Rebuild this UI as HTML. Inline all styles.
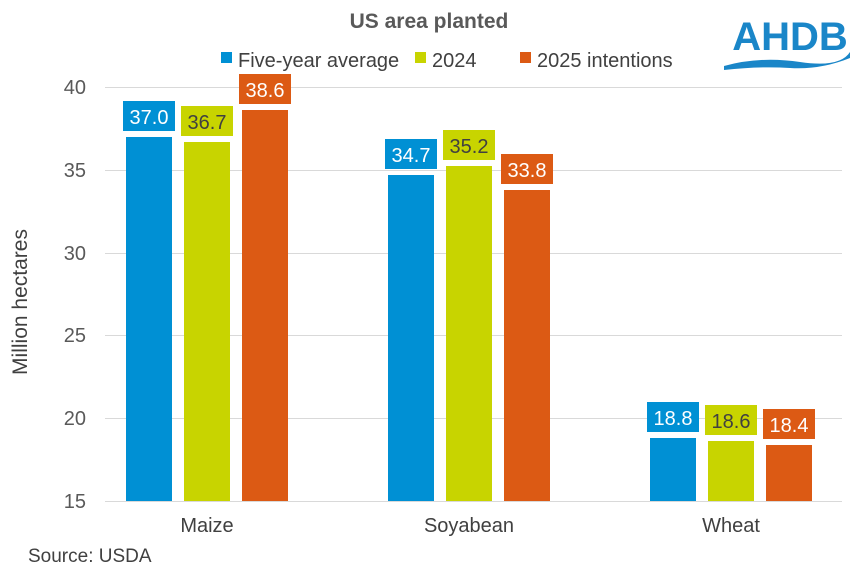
<!DOCTYPE html><html><head><style>body{margin:0;background:#fff}svg{display:block;font-family:"Liberation Sans",Arial,sans-serif}</style></head><body>
<svg width="858" height="569" viewBox="0 0 858 569">
<text x="429" y="28" text-anchor="middle" font-size="21" font-weight="bold" fill="#595959">US area planted</text>
<rect x="221" y="52" width="11" height="11" fill="#0090d4"/><text x="238" y="67" font-size="20" fill="#404040">Five-year average</text>
<rect x="415" y="52" width="11" height="11" fill="#c8d400"/><text x="432" y="67" font-size="20" fill="#404040">2024</text>
<rect x="520" y="52" width="11" height="11" fill="#dc5a14"/><text x="537" y="67" font-size="20" fill="#404040">2025 intentions</text>
<text x="790" y="50" text-anchor="middle" font-size="40" font-weight="bold" fill="#1a86c8">AHDB</text>
<path d="M724 66 Q760 56 800 62 T850 52 L850 58 Q820 70 790 68 T724 70 Z" fill="#1a86c8"/>
<g stroke="#d9d9d9" stroke-width="1">
<line x1="105" x2="842" y1="87.5" y2="87.5"/><line x1="105" x2="842" y1="170.5" y2="170.5"/><line x1="105" x2="842" y1="253.5" y2="253.5"/><line x1="105" x2="842" y1="335.5" y2="335.5"/><line x1="105" x2="842" y1="418.5" y2="418.5"/><line x1="105" x2="842" y1="501.5" y2="501.5"/></g>
<g font-size="20" fill="#595959" text-anchor="end">
<text x="86" y="94">40</text><text x="86" y="177">35</text><text x="86" y="260">30</text><text x="86" y="342">25</text><text x="86" y="425">20</text><text x="86" y="508">15</text></g>
<text transform="translate(27,302) rotate(-90)" text-anchor="middle" font-size="21" fill="#404040">Million hectares</text>
<g font-size="20" fill="#404040" text-anchor="middle"><text x="207" y="532">Maize</text><text x="469" y="532">Soyabean</text><text x="731" y="532">Wheat</text></g>
<text x="28" y="562" font-size="19" fill="#404040">Source: USDA</text>
<g font-size="20" text-anchor="middle">
<rect x="126" y="137" width="46" height="364" fill="#0090d4"/><rect x="123" y="101" width="52" height="30" fill="#0090d4"/><text x="149" y="124" fill="#fff">37.0</text>
<rect x="184" y="142" width="46" height="359" fill="#c8d400"/><rect x="181" y="106" width="52" height="30" fill="#c8d400"/><text x="207" y="129" fill="#404040">36.7</text>
<rect x="242" y="110" width="46" height="391" fill="#dc5a14"/><rect x="239" y="74" width="52" height="30" fill="#dc5a14"/><text x="265" y="97" fill="#fff">38.6</text>
<rect x="388" y="175" width="46" height="326" fill="#0090d4"/><rect x="385" y="139" width="52" height="30" fill="#0090d4"/><text x="411" y="162" fill="#fff">34.7</text>
<rect x="446" y="166" width="46" height="335" fill="#c8d400"/><rect x="443" y="130" width="52" height="30" fill="#c8d400"/><text x="469" y="153" fill="#404040">35.2</text>
<rect x="504" y="190" width="46" height="311" fill="#dc5a14"/><rect x="501" y="154" width="52" height="30" fill="#dc5a14"/><text x="527" y="177" fill="#fff">33.8</text>
<rect x="650" y="438" width="46" height="63" fill="#0090d4"/><rect x="647" y="402" width="52" height="30" fill="#0090d4"/><text x="673" y="425" fill="#fff">18.8</text>
<rect x="708" y="441" width="46" height="60" fill="#c8d400"/><rect x="705" y="405" width="52" height="30" fill="#c8d400"/><text x="731" y="428" fill="#404040">18.6</text>
<rect x="766" y="445" width="46" height="56" fill="#dc5a14"/><rect x="763" y="409" width="52" height="30" fill="#dc5a14"/><text x="789" y="432" fill="#fff">18.4</text>
</g>
</svg></body></html>
